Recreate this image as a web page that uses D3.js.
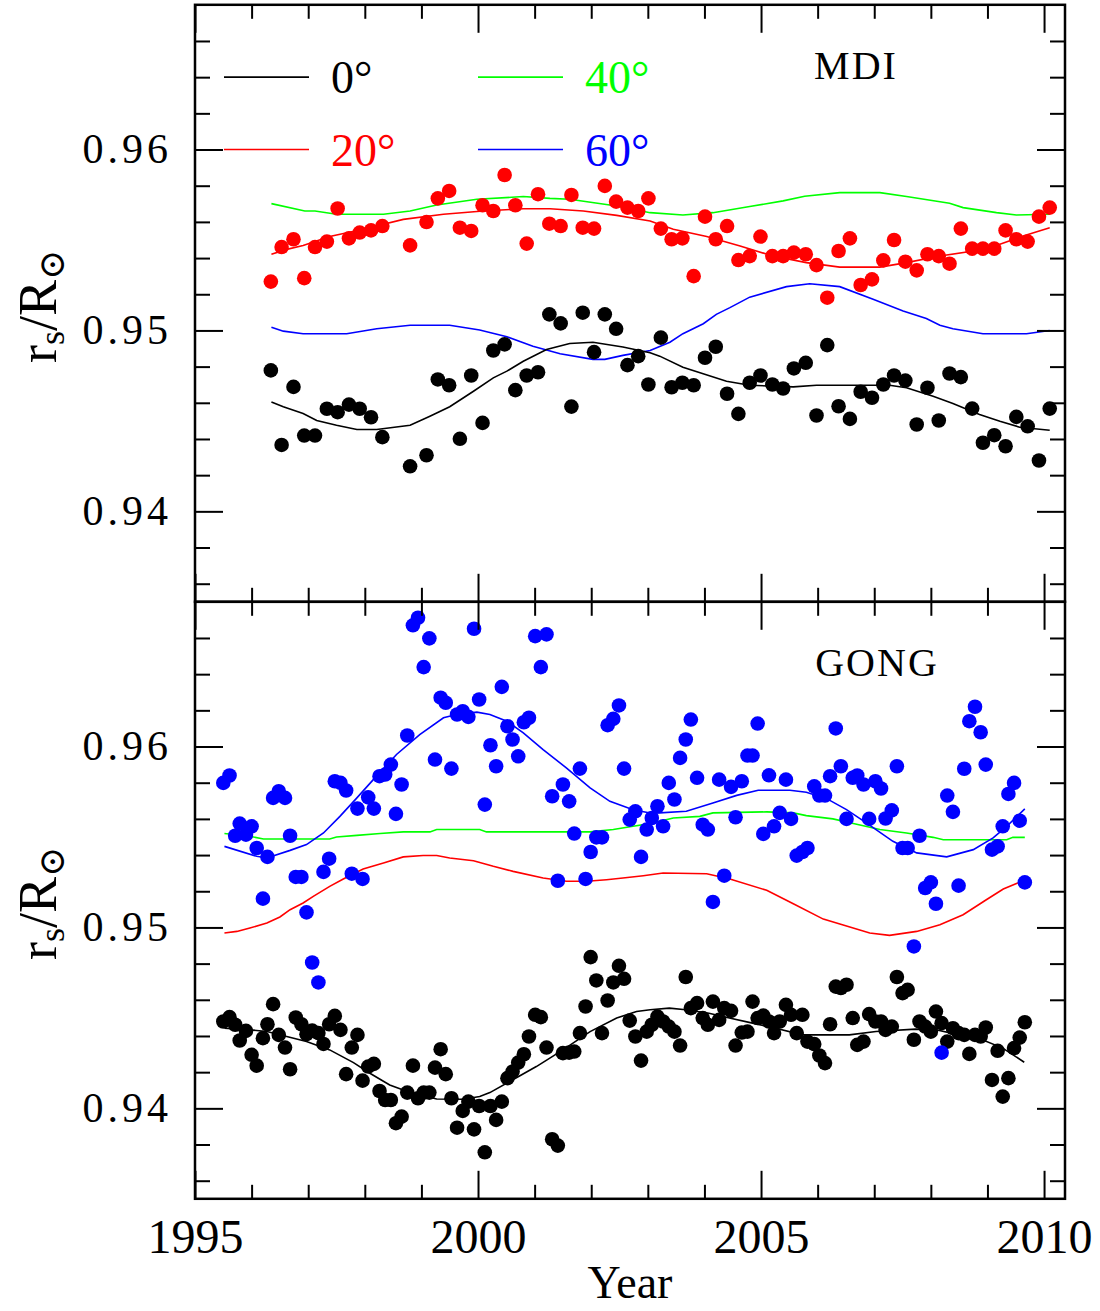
<!DOCTYPE html>
<html>
<head>
<meta charset="utf-8">
<script src="https://cdn.jsdelivr.net/npm/d3@7"></script>
<style>
  body { margin: 0; background: #fff; }
  svg { display: block; background: #fff; }
  text { font-family: "Liberation Serif", "DejaVu Serif", serif; }
</style>
</head>
<body>
<svg id="chart"></svg>
<script>
// ---- axis labels / ticks ----
const xTickLabels = [1995, 2000, 2005, 2010];
const yTickLabels = [0.94, 0.95, 0.96];
const xDomain = [1995, 2010.37];
const yDomain = [0.935, 0.968];

// ---- MDI (top panel) ----
const mdiTimes = [1996.34, 1996.53, 1996.74, 1996.93, 1997.12, 1997.33, 1997.52, 1997.72, 1997.91, 1998.11,
  1998.31, 1998.80, 1999.09, 1999.29, 1999.49, 1999.68, 1999.88, 2000.08, 2000.27, 2000.47,
  2000.66, 2000.86, 2001.06, 2001.26, 2001.46, 2001.65, 2001.85, 2002.05, 2002.24, 2002.44,
  2002.64, 2002.83, 2003.01, 2003.23, 2003.42, 2003.61, 2003.81, 2004.01, 2004.20, 2004.40,
  2004.60, 2004.80, 2004.99, 2005.20, 2005.39, 2005.58, 2005.79, 2005.98, 2006.17, 2006.37,
  2006.57, 2006.76, 2006.96, 2007.16, 2007.35, 2007.55, 2007.75, 2007.94, 2008.14, 2008.33,
  2008.53, 2008.73, 2008.92, 2009.12, 2009.32, 2009.51, 2009.71, 2009.91, 2010.10];

const mdi0 = [0.94779, 0.94367, 0.94688, 0.94419, 0.94419, 0.94567, 0.94548, 0.94590, 0.94567, 0.94520,
  0.94410, 0.94249, 0.94310, 0.94729, 0.94697, 0.94401, 0.94751, 0.94489, 0.94889, 0.94923,
  0.94670, 0.94751, 0.94769, 0.95089, 0.95039, 0.94579, 0.95098, 0.94880, 0.95089, 0.95009,
  0.94808, 0.94858, 0.94701, 0.94960, 0.94686, 0.94711, 0.94697, 0.94849, 0.94910, 0.94650,
  0.94539, 0.94711, 0.94751, 0.94701, 0.94679, 0.94790, 0.94821, 0.94530, 0.94919, 0.94581,
  0.94511, 0.94661, 0.94628, 0.94701, 0.94751, 0.94723, 0.94480, 0.94683, 0.94502, 0.94762,
  0.94742, 0.94568, 0.94379, 0.94421, 0.94360, 0.94522, 0.94470, 0.94281, 0.94568];

const mdi20 = [0.95270, 0.95461, 0.95504, 0.95289, 0.95461, 0.95491, 0.95674, 0.95509, 0.95541, 0.95553,
  0.95577, 0.95470, 0.95599, 0.95730, 0.95771, 0.95568, 0.95550, 0.95692, 0.95660, 0.95859,
  0.95692, 0.95480, 0.95753, 0.95590, 0.95577, 0.95749, 0.95568, 0.95563, 0.95799, 0.95712,
  0.95679, 0.95660, 0.95730, 0.95563, 0.95504, 0.95509, 0.95300, 0.95629, 0.95504, 0.95577,
  0.95389, 0.95411, 0.95519, 0.95411, 0.95411, 0.95430, 0.95421, 0.95361, 0.95181, 0.95439,
  0.95509, 0.95251, 0.95282, 0.95387, 0.95500, 0.95380, 0.95332, 0.95421, 0.95411, 0.95369,
  0.95563, 0.95452, 0.95452, 0.95452, 0.95553, 0.95504, 0.95491, 0.95629, 0.95679];

const mdiFit0 = [[1996.35,0.94605],[1996.56,0.94578],[1996.91,0.94541],[1997.15,0.94502],[1997.50,0.94476],
  [1997.86,0.94452],[1998.21,0.94452],[1998.80,0.94476],[1999.15,0.94526],[1999.50,0.94578],[1999.92,0.94664],
  [2000.27,0.94738],[2000.51,0.94775],[2000.80,0.94830],[2001.21,0.94895],[2001.62,0.94928],[2002.03,0.94935],
  [2002.56,0.94908],[2003.04,0.94877],[2003.21,0.94858],[2003.62,0.94797],[2004.39,0.94719],[2004.80,0.94697],
  [2005.57,0.94688],[2005.98,0.94697],[2007.27,0.94697],[2007.57,0.94683],[2008.04,0.94636],[2008.39,0.94596],
  [2008.86,0.94535],[2009.22,0.94498],[2009.57,0.94465],[2010.10,0.94448]];

const mdiFit20 = [[1996.35,0.95421],[1996.62,0.95448],[1996.91,0.95470],[1997.38,0.95519],[1997.97,0.95559],
  [1998.68,0.95614],[1999.39,0.95642],[2000.09,0.95660],[2000.80,0.95673],[2001.27,0.95673],[2001.86,0.95660],
  [2002.45,0.95636],[2003.04,0.95605],[2003.45,0.95559],[2004.04,0.95519],[2004.63,0.95467],[2005.21,0.95411],
  [2005.80,0.95375],[2006.39,0.95350],[2007.10,0.95350],[2007.57,0.95375],[2008.16,0.95411],[2008.75,0.95439],
  [2009.22,0.95476],[2009.63,0.95522],[2010.10,0.95568]];

const mdiFit40 = [[1996.35,0.95701],[1996.94,0.95660],[1997.12,0.95660],[1997.50,0.95642],[1998.33,0.95642],
  [1998.80,0.95660],[1999.27,0.95693],[1999.98,0.95725],[2000.80,0.95740],[2001.27,0.95730],[2001.62,0.95725],
  [2002.45,0.95688],[2003.04,0.95651],[2003.62,0.95638],[2004.15,0.95651],[2004.80,0.95685],[2005.39,0.95716],
  [2005.77,0.95742],[2006.39,0.95762],[2007.10,0.95762],[2007.57,0.95740],[2008.33,0.95703],[2008.57,0.95679],
  [2009.16,0.95651],[2009.51,0.95638],[2010.10,0.95642]];

const mdiFit60 = [[1996.35,0.95018],[1996.56,0.94996],[1996.91,0.94982],[1997.68,0.94982],[1998.21,0.95009],
  [1998.80,0.95029],[1999.50,0.95029],[2000.03,0.95002],[2000.51,0.94965],[2000.97,0.94913],[2001.45,0.94871],
  [2002.03,0.94840],[2002.24,0.94840],[2002.56,0.94862],[2003.04,0.94889],[2003.39,0.94935],[2003.62,0.94982],
  [2003.98,0.95037],[2004.21,0.95089],[2004.45,0.95126],[2004.80,0.95184],[2005.45,0.95242],[2005.86,0.95258],
  [2006.39,0.95242],[2006.98,0.95172],[2007.51,0.95107],[2007.92,0.95066],[2008.16,0.95029],[2008.39,0.95009],
  [2008.92,0.94982],[2009.69,0.94982],[2010.10,0.95000]];

// ---- GONG (bottom panel) ----
const gongTimes = [1995.50, 1995.61, 1995.71, 1995.79, 1995.90, 1996.00, 1996.09, 1996.20, 1996.28, 1996.38,
  1996.48, 1996.59, 1996.68, 1996.78, 1996.88, 1996.97, 1997.07, 1997.18, 1997.27, 1997.37,
  1997.47, 1997.57, 1997.67, 1997.77, 1997.87, 1997.96, 1998.06, 1998.16, 1998.26, 1998.36,
  1998.46, 1998.55, 1998.65, 1998.75, 1998.85, 1998.94, 1999.04, 1999.14, 1999.24, 1999.34,
  1999.43, 1999.53, 1999.63, 1999.73, 1999.83, 1999.93, 2000.02, 2000.12, 2000.22, 2000.32,
  2000.42, 2000.52, 2000.61, 2000.71, 2000.81, 2000.90, 2001.01, 2001.11, 2001.21, 2001.31,
  2001.41, 2001.50, 2001.61, 2001.70, 2001.80, 2001.90, 2001.99, 2002.09, 2002.19, 2002.29,
  2002.39, 2002.49, 2002.58, 2002.68, 2002.78, 2002.88, 2002.98, 2003.07, 2003.17, 2003.27,
  2003.37, 2003.47, 2003.57, 2003.67, 2003.76, 2003.87, 2003.97, 2004.06, 2004.15, 2004.26,
  2004.35, 2004.47, 2004.55, 2004.66, 2004.76, 2004.85, 2004.94, 2005.04, 2005.14, 2005.23,
  2005.33, 2005.44, 2005.53, 2005.63, 2005.73, 2005.82, 2005.94, 2006.03, 2006.13, 2006.22,
  2006.32, 2006.41, 2006.51, 2006.62, 2006.70, 2006.81, 2006.91, 2007.02, 2007.12, 2007.20,
  2007.31, 2007.40, 2007.50, 2007.59, 2007.70, 2007.80, 2007.90, 2008.00, 2008.09, 2008.19,
  2008.29, 2008.39, 2008.49, 2008.59, 2008.68, 2008.78, 2008.88, 2008.97, 2009.08, 2009.18,
  2009.27, 2009.37, 2009.47, 2009.57, 2009.66];

const gong0 = [0.94480, 0.94504, 0.94462, 0.94375, 0.94428, 0.94296, 0.94236, 0.94388, 0.94465, 0.94576,
  0.94406, 0.94336, 0.94216, 0.94502, 0.94465, 0.94410, 0.94430, 0.94416, 0.94356, 0.94465,
  0.94511, 0.94434, 0.94189, 0.94336, 0.94406, 0.94153, 0.94231, 0.94246, 0.94096, 0.94046,
  0.94046, 0.93918, 0.93954, 0.94087, 0.94236, 0.94056, 0.94087, 0.94087, 0.94225, 0.94327,
  0.94189, 0.94056, 0.93893, 0.93986, 0.94037, 0.93884, 0.94013, 0.93757, 0.94013, 0.93936,
  0.94037, 0.94167, 0.94203, 0.94253, 0.94299, 0.94397, 0.94517, 0.94504, 0.94336, 0.93829,
  0.93794, 0.94305, 0.94308, 0.94314, 0.94416, 0.94563, 0.94836, 0.94707, 0.94416, 0.94596,
  0.94696, 0.94788, 0.94716, 0.94485, 0.94397, 0.94264, 0.94424, 0.94462, 0.94507, 0.94480,
  0.94452, 0.94424, 0.94347, 0.94726, 0.94554, 0.94582, 0.94499, 0.94462, 0.94590, 0.94489,
  0.94554, 0.94539, 0.94347, 0.94419, 0.94424, 0.94590, 0.94499, 0.94513, 0.94480, 0.94416,
  0.94480, 0.94572, 0.94517, 0.94416, 0.94517, 0.94369, 0.94355, 0.94292, 0.94250, 0.94465,
  0.94673, 0.94665, 0.94683, 0.94499, 0.94351, 0.94369, 0.94521, 0.94480, 0.94480, 0.94434,
  0.94452, 0.94726, 0.94637, 0.94655, 0.94379, 0.94480, 0.94452, 0.94424, 0.94535, 0.94471,
  0.94369, 0.94443, 0.94416, 0.94406, 0.94301, 0.94406, 0.94397, 0.94447, 0.94157, 0.94318,
  0.94065, 0.94167, 0.94333, 0.94391, 0.94476];

const gong60 = [0.95799, 0.95840, 0.95507, 0.95574, 0.95513, 0.95559, 0.95439, 0.95159, 0.95390, 0.95716,
  0.95753, 0.95716, 0.95507, 0.95279, 0.95279, 0.95083, 0.94806, 0.94696, 0.95307, 0.95380,
  0.95808, 0.95799, 0.95757, 0.95297, 0.95657, 0.95268, 0.95719, 0.95657, 0.95836, 0.95845,
  0.95900, 0.95628, 0.95790, 0.96061, 0.96670, 0.96712, 0.96439, 0.96598, 0.95928, 0.96270,
  0.96242, 0.95878, 0.96177, 0.96195, 0.96164, 0.96651, 0.96260, 0.95679, 0.96007, 0.95891,
  0.96330, 0.96112, 0.96039, 0.95946, 0.96134, 0.96159, 0.96610, 0.96439, 0.96620, 0.95725,
  0.95258, 0.95790, 0.95697, 0.95519, 0.95878, 0.95268, 0.95417, 0.95498, 0.95498, 0.96118,
  0.96153, 0.96227, 0.95878, 0.95596, 0.95642, 0.95390, 0.95541, 0.95605, 0.95670, 0.95559,
  0.95799, 0.95707, 0.95937, 0.96039, 0.96149, 0.95827, 0.95568, 0.95541, 0.95141, 0.95817,
  0.95286, 0.95777, 0.95609, 0.95808, 0.95950, 0.95950, 0.96127, 0.95517, 0.95841, 0.95559,
  0.95633, 0.95817, 0.95600, 0.95397, 0.95417, 0.95439, 0.95780, 0.95729, 0.95729, 0.95836,
  0.96100, 0.95891, 0.95600, 0.95827, 0.95840, 0.95790, 0.95600, 0.95808, 0.95768, 0.95602,
  0.95647, 0.95891, 0.95439, 0.95439, 0.94895, 0.95507, 0.95218, 0.95249, 0.95131, 0.94308,
  0.95729, 0.95639, 0.95231, 0.95877, 0.96140, 0.96220, 0.96079, 0.95900, 0.95430, 0.95448,
  0.95559, 0.95738, 0.95799, 0.95590, 0.95249];

const gongFit0 = [[1995.52,0.94443],[1995.97,0.94434],[1996.27,0.94425],[1996.62,0.94397],[1996.97,0.94369],
  [1997.38,0.94323],[1997.80,0.94253],[1998.09,0.94194],[1998.44,0.94129],[1998.80,0.94087],[1999.27,0.94052],
  [1999.74,0.94050],[2000.03,0.94065],[2000.21,0.94087],[2000.56,0.94148],[2001.03,0.94231],[2001.50,0.94323],
  [2001.98,0.94424],[2002.45,0.94499],[2002.80,0.94535],[2003.04,0.94545],[2003.38,0.94554],[2003.67,0.94545],
  [2004.08,0.94526],[2004.44,0.94499],[2004.85,0.94471],[2005.26,0.94443],[2005.73,0.94406],[2006.56,0.94406],
  [2007.03,0.94425],[2007.73,0.94438],[2008.09,0.94434],[2008.50,0.94406],[2008.91,0.94379],[2009.27,0.94333],
  [2009.65,0.94255]];

const gongFit20 = [[1995.52,0.94969],[1995.74,0.94978],[1995.97,0.94997],[1996.27,0.95024],[1996.50,0.95058],
  [1996.68,0.95098],[1996.91,0.95135],[1997.09,0.95172],[1997.38,0.95227],[1997.62,0.95268],[1997.97,0.95323],
  [1998.33,0.95356],[1998.68,0.95390],[1999.03,0.95398],[1999.27,0.95398],[1999.50,0.95384],[1999.92,0.95369],
  [2000.27,0.95338],[2000.62,0.95310],[2001.15,0.95273],[2001.56,0.95255],[2001.92,0.95255],[2002.27,0.95264],
  [2002.56,0.95273],[2002.92,0.95286],[2003.27,0.95301],[2004.04,0.95297],[2004.45,0.95268],[2005.10,0.95205],
  [2005.57,0.95131],[2006.10,0.95046],[2006.92,0.94969],[2007.27,0.94956],[2007.75,0.94978],[2008.16,0.95015],
  [2008.57,0.95070],[2008.98,0.95153],[2009.28,0.95212],[2009.63,0.95258]];

const gongFit40 = [[1995.52,0.95519],[1995.97,0.95504],[1996.21,0.95489],[1997.38,0.95489],[1997.50,0.95500],
  [1997.86,0.95509],[1998.27,0.95519],[1998.68,0.95528],[1999.15,0.95528],[1999.27,0.95541],[2000.03,0.95541],
  [2000.15,0.95528],[2001.98,0.95528],[2002.39,0.95541],[2002.74,0.95559],[2003.04,0.95574],[2003.45,0.95605],
  [2003.92,0.95614],[2004.15,0.95633],[2005.10,0.95639],[2005.57,0.95633],[2005.80,0.95618],[2006.27,0.95600],
  [2006.63,0.95574],[2007.10,0.95541],[2007.57,0.95522],[2008.04,0.95498],[2008.22,0.95485],[2009.34,0.95485],
  [2009.45,0.95498],[2009.66,0.95498]];

const gongFit60 = [[1995.52,0.95448],[1996.09,0.95393],[1996.27,0.95384],[1996.68,0.95426],[1996.97,0.95458],
  [1997.27,0.95522],[1997.56,0.95614],[1997.86,0.95716],[1998.15,0.95817],[1998.56,0.95956],[1998.97,0.96066],
  [1999.39,0.96159],[1999.62,0.96177],[1999.98,0.96190],[2000.21,0.96177],[2000.51,0.96140],[2000.80,0.96076],
  [2001.15,0.95983],[2001.56,0.95882],[2001.98,0.95771],[2002.33,0.95697],[2002.74,0.95651],[2003.04,0.95633],
  [2003.21,0.95633],[2003.68,0.95642],[2004.15,0.95688],[2004.57,0.95730],[2004.95,0.95758],[2005.51,0.95758],
  [2005.80,0.95747],[2006.16,0.95712],[2006.51,0.95651],[2006.86,0.95578],[2007.33,0.95476],[2007.75,0.95412],
  [2008.28,0.95390],[2008.75,0.95430],[2009.10,0.95495],[2009.34,0.95559],[2009.66,0.95655]];

const legendItems = [
  {label: "0°", color: "#000000", col: 0, row: 0},
  {label: "20°", color: "#ff0000", col: 0, row: 1},
  {label: "40°", color: "#00ff00", col: 1, row: 0},
  {label: "60°", color: "#0000ff", col: 1, row: 1}
];

class RadiusPanel {
  constructor(_config, _data) {
    this.config = {
      parentElement: _config.parentElement,
      top: _config.top,
      left: _config.left || 195,
      width: _config.width || 870,
      height: _config.height || 597,
      title: _config.title,
      titleX: _config.titleX,
      showXLabels: _config.showXLabels || false,
      showLegend: _config.showLegend || false
    }
    this.data = _data;
    this.initVis();
  }

  initVis() {
    let vis = this;

    vis.chart = vis.config.parentElement.append('g')
      .attr('transform', `translate(${vis.config.left}, ${vis.config.top})`);

    vis.xScale = d3.scaleLinear().domain(xDomain).range([0, vis.config.width]);
    vis.yScale = d3.scaleLinear().domain(yDomain).range([vis.config.height, 0]);

    vis.renderVis();
  }

  renderVis() {
    let vis = this;
    const w = vis.config.width, h = vis.config.height;

    // smoothed fits under the dots
    const line = d3.line()
      .x(d => vis.xScale(d[0]))
      .y(d => vis.yScale(d[1]));

    vis.chart.selectAll('.fit')
      .data(vis.data.fits)
      .enter()
      .append('path')
        .attr('class', 'fit')
        .attr('d', d => line(d.values))
        .attr('fill', 'none')
        .attr('stroke', d => d.color)
        .attr('stroke-width', 1.6);

    // measured points
    vis.data.points.forEach(s => {
      vis.chart.append('g')
        .selectAll('circle')
        .data(s.values.map((v, i) => [s.times[i], v]))
        .enter()
        .append('circle')
          .attr('cx', d => vis.xScale(d[0]))
          .attr('cy', d => vis.yScale(d[1]))
          .attr('r', 7.3)
          .attr('fill', s.color);
    });

    // inward ticks on all four sides
    const xMajor = d3.range(1995, 2011, 5);
    const xMinor = d3.range(1996, 2011).filter(d => d % 5 !== 0);
    const yMajor = yTickLabels;
    const yMinor = d3.range(468, 484).map(i => +(i * 0.002).toFixed(3))
      .filter(d => !yMajor.some(m => Math.abs(m - d) < 1e-6));

    const tickGroups = [
      {axis: d3.axisTop, scale: vis.xScale, vals: xMajor, size: 28, tr: 'translate(0,0)'},
      {axis: d3.axisTop, scale: vis.xScale, vals: xMinor, size: 14, tr: 'translate(0,0)'},
      {axis: d3.axisBottom, scale: vis.xScale, vals: xMajor, size: 28, tr: `translate(0,${h})`},
      {axis: d3.axisBottom, scale: vis.xScale, vals: xMinor, size: 14, tr: `translate(0,${h})`},
      {axis: d3.axisLeft, scale: vis.yScale, vals: yMajor, size: 28, tr: 'translate(0,0)'},
      {axis: d3.axisLeft, scale: vis.yScale, vals: yMinor, size: 15, tr: 'translate(0,0)'},
      {axis: d3.axisRight, scale: vis.yScale, vals: yMajor, size: 28, tr: `translate(${w},0)`},
      {axis: d3.axisRight, scale: vis.yScale, vals: yMinor, size: 15, tr: `translate(${w},0)`}
    ];
    tickGroups.forEach(t => {
      const g = vis.chart.append('g')
        .attr('transform', t.tr)
        .call(t.axis(t.scale).tickValues(t.vals).tickSize(-t.size).tickFormat(''));
      g.select('.domain').remove();
      g.selectAll('line').attr('stroke', '#000').attr('stroke-width', 2);
    });

    // frame
    vis.chart.append('rect')
      .attr('width', w)
      .attr('height', h)
      .attr('fill', 'none')
      .attr('stroke', '#000')
      .attr('stroke-width', 2.5);

    // y tick labels
    const yLab = vis.chart.append('g')
      .call(d3.axisLeft(vis.yScale).tickValues(yTickLabels).tickSize(0).tickPadding(23)
        .tickFormat(d3.format('.2f')));
    yLab.select('.domain').remove();
    yLab.selectAll('text')
      .attr('font-size', 42)
      .attr('letter-spacing', 4)
      .attr('font-family', '"Liberation Serif", serif')
      .attr('fill', '#000');

    // y axis title  r_s / R_sun
    const yt = vis.chart.append('text')
      .attr('transform', `translate(${-139}, ${h / 2 + 3}) rotate(-90)`)
      .attr('text-anchor', 'middle')
      .attr('font-size', 54)
      .attr('fill', '#000');
    yt.append('tspan').text('r');
    yt.append('tspan').attr('dy', 8).attr('font-size', 36).text('s');
    yt.append('tspan').attr('dy', -8).text('/');
    yt.append('tspan').text('R');
    yt.append('tspan').attr('dy', 8).attr('font-size', 36)
      .attr('font-family', '"DejaVu Serif", serif').text('\u2299');

    // panel title
    vis.chart.append('text')
      .attr('x', vis.config.titleX)
      .attr('y', 74)
      .attr('text-anchor', 'middle')
      .attr('font-size', 40)
      .attr('letter-spacing', 2)
      .attr('fill', '#000')
      .text(vis.config.title);

    if (vis.config.showLegend) {
      const colX = [29, 283];
      const rows = [0.964, 0.960];
      legendItems.forEach(d => {
        const ly = vis.yScale(rows[d.row]);
        vis.chart.append('line')
          .attr('x1', colX[d.col]).attr('x2', colX[d.col] + 85)
          .attr('y1', ly).attr('y2', ly)
          .attr('stroke', d.color).attr('stroke-width', 1.6);
        vis.chart.append('text')
          .attr('x', colX[d.col] + 107)
          .attr('y', ly + 16)
          .attr('font-size', 46)
          .attr('fill', d.color)
          .text(d.label);
      });
    }

    if (vis.config.showXLabels) {
      const xLab = vis.chart.append('g')
        .attr('transform', `translate(0,${h})`)
        .call(d3.axisBottom(vis.xScale).tickValues(xTickLabels).tickSize(0).tickPadding(20)
          .tickFormat(d3.format('d')));
      xLab.select('.domain').remove();
      xLab.selectAll('text')
        .attr('font-size', 48)
        .attr('font-family', '"Liberation Serif", serif')
        .attr('fill', '#000');

      vis.chart.append('text')
        .attr('x', w / 2)
        .attr('y', h + 99)
        .attr('text-anchor', 'middle')
        .attr('font-size', 46)
        .attr('fill', '#000')
        .text('Year');
    }
  }
}

const svg = d3.select('#chart')
  .attr('width', 1100)
  .attr('height', 1311);

svg.append('rect').attr('width', 1100).attr('height', 1311).attr('fill', '#fff');

const mdiPanel = new RadiusPanel({
  parentElement: svg, top: 4.8, title: 'MDI', titleX: 661, showLegend: true
}, {
  fits: [
    {color: '#00ff00', values: mdiFit40},
    {color: '#0000ff', values: mdiFit60},
    {color: '#ff0000', values: mdiFit20},
    {color: '#000000', values: mdiFit0}
  ],
  points: [
    {color: '#000000', times: mdiTimes, values: mdi0},
    {color: '#ff0000', times: mdiTimes, values: mdi20}
  ]
});

const gongPanel = new RadiusPanel({
  parentElement: svg, top: 601.8, title: 'GONG', titleX: 682, showXLabels: true
}, {
  fits: [
    {color: '#00ff00', values: gongFit40},
    {color: '#ff0000', values: gongFit20},
    {color: '#0000ff', values: gongFit60},
    {color: '#000000', values: gongFit0}
  ],
  points: [
    {color: '#000000', times: gongTimes, values: gong0},
    {color: '#0000ff', times: gongTimes, values: gong60}
  ]
});
</script>
</body>
</html>
